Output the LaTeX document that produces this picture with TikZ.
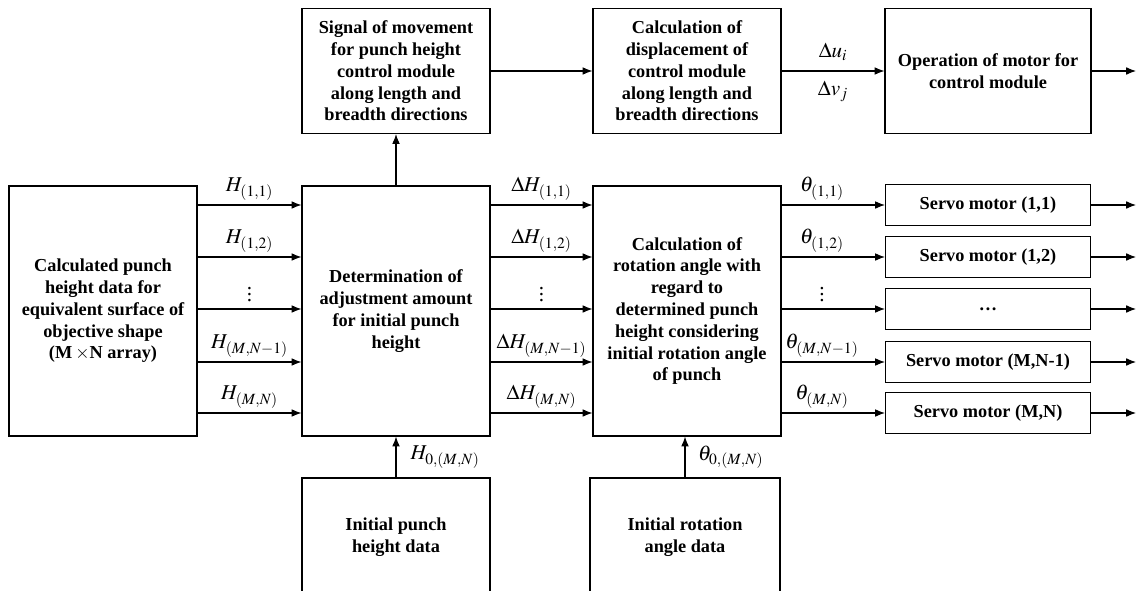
\documentclass[tikz,border=0pt]{standalone}
\usepackage{mathptmx}
\usepackage{fontspec}
\setmainfont{Liberation Serif}
\usetikzlibrary{calc, positioning, arrows, arrows.meta}
\tikzset{
	blk/.style={draw, line width=0.8pt, align=center, inner sep=2pt, font=\fontsize{13}{15.5}\selectfont\bfseries},
	flow/.style={-{Latex[length=7pt,width=5.5pt]}, line width=0.75pt},
	lbl/.style={font=\fontsize{15}{17}\selectfont, inner sep=1pt}
}
\newcommand\block[6]{\node[blk, minimum width=#4*0.025cm, minimum height=#5*0.025cm] (#1) at (#2,#3) {#6};}

\begin{document}
\begin{tikzpicture}[x=0.025cm, y=-0.025cm]
	\useasboundingbox (0,0) rectangle (1137,591);
	% top row
	\block{sig}{396}{71}{188}{125}{Signal of movement\\for punch height\\control module\\along length and\\breadth directions}
	\block{disp}{687}{71}{188}{125}{Calculation of\\displacement of\\control module\\along length and\\breadth directions}
	\block{op}{988}{71}{206}{125}{Operation of motor for\\control module}
	% main row
	\block{calc}{103}{311}{188}{250}{Calculated punch\\height data for\\equivalent surface of\\objective shape\\(M\,$\times$N array)}
	\block{adj}{396}{311}{188}{250}{Determination of\\adjustment amount\\for initial punch\\height}
	\block{rot}{687}{311}{188}{250}{Calculation of\\rotation angle with\\regard to\\determined punch\\height considering\\initial rotation angle\\of punch}
	\block{s1}{988}{205}{205}{41}{Servo motor (1,1)}
	\block{s2}{988}{257}{205}{41}{Servo motor (1,2)}
	\block{s3}{988}{309}{205}{41}{\ldots}
	\block{s4}{988}{362}{205}{41}{Servo motor (M,N-1)}
	\block{s5}{988}{413}{205}{41}{Servo motor (M,N)}
	% bottom row
	\block{ih}{396}{537}{188}{118}{Initial punch\\height data}
	\block{ir}{685}{537}{190}{118}{Initial rotation\\angle data}
	\coordinate (outx) at (1136,0);

	\draw[flow] (adj) -- (sig);
	\draw[flow] (sig) -- (disp);
	\draw[flow] (disp) -- node[lbl,above=6pt]{$\Delta u_i$} node[lbl,below=6pt]{$\Delta v_j$} (op);
	\draw[flow] (op) -- (op -| outx);
	\draw[flow] (adj.south |- ih.north) -- node[lbl,right=9pt]{$H_{0,(M,N)}$} (adj);
	\draw[flow] (ir) -- node[lbl,right=8pt]{$\theta_{0,(M,N)}$} (rot.south -| ir);

	\draw[flow] (calc.east |- s1) -- node[lbl,above=2pt]{$H_{(1,1)}$} (adj.west |- s1);
	\draw[flow] (calc.east |- s2) -- node[lbl,above=2pt]{$H_{(1,2)}$} (adj.west |- s2);
	\draw[flow] (calc.east |- s3) -- node[lbl,above=4pt]{$\vdots$} (adj.west |- s3);
	\draw[flow] (calc.east |- s4) -- node[lbl,above=2pt]{$H_{(M,N-1)}$} (adj.west |- s4);
	\draw[flow] (calc.east |- s5) -- node[lbl,above=2pt]{$H_{(M,N)}$} (adj.west |- s5);

	\draw[flow] (adj.east |- s1) -- node[lbl,above=2pt]{$\Delta H_{(1,1)}$} (rot.west |- s1);
	\draw[flow] (adj.east |- s2) -- node[lbl,above=2pt]{$\Delta H_{(1,2)}$} (rot.west |- s2);
	\draw[flow] (adj.east |- s3) -- node[lbl,above=4pt]{$\vdots$} (rot.west |- s3);
	\draw[flow] (adj.east |- s4) -- node[lbl,above=2pt]{$\Delta H_{(M,N-1)}$} (rot.west |- s4);
	\draw[flow] (adj.east |- s5) -- node[lbl,above=2pt]{$\Delta H_{(M,N)}$} (rot.west |- s5);

	\draw[flow] (rot.east |- s1) -- node[lbl,above=2pt,xshift=-8pt]{$\theta_{(1,1)}$} (s1);
	\draw[flow] (rot.east |- s2) -- node[lbl,above=2pt,xshift=-8pt]{$\theta_{(1,2)}$} (s2);
	\draw[flow] (rot.east |- s3) -- node[lbl,above=4pt,xshift=-8pt]{$\vdots$} (s3);
	\draw[flow] (rot.east |- s4) -- node[lbl,above=2pt,xshift=-8pt]{$\theta_{(M,N-1)}$} (s4);
	\draw[flow] (rot.east |- s5) -- node[lbl,above=2pt,xshift=-8pt]{$\theta_{(M,N)}$} (s5);

	\foreach \n in {1,...,5}
		\draw[flow] (s\n) -- (s\n -| outx);
\end{tikzpicture}
\end{document}
